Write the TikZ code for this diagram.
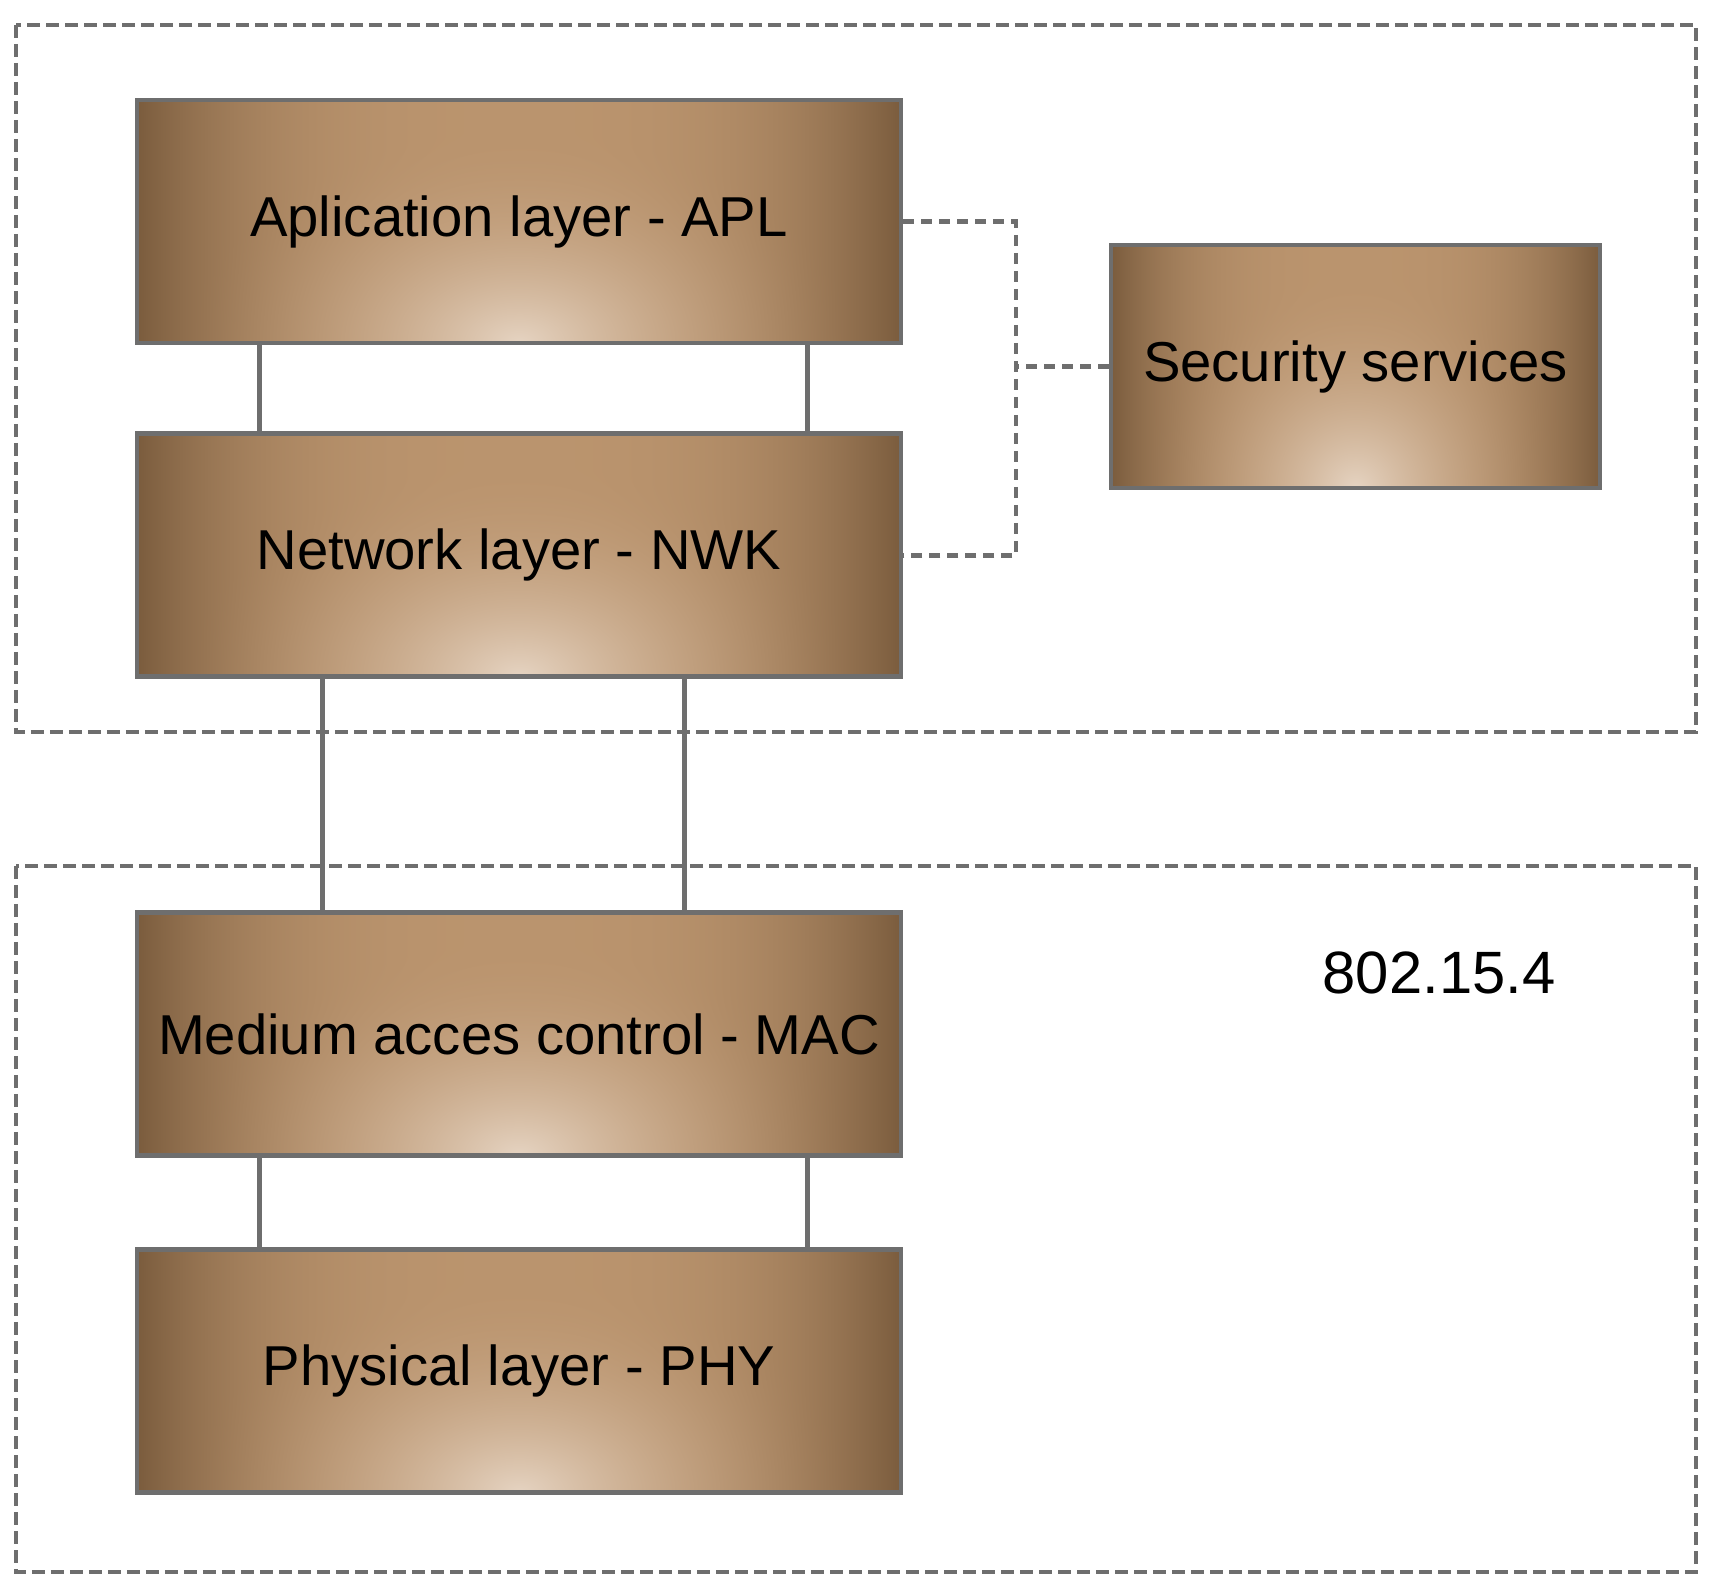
\documentclass[tikz,border=0pt]{standalone}
\usepackage{fontspec}
\setmainfont{Liberation Sans}
\usetikzlibrary{positioning}
\pgfdeclarefunctionalshading{layerglow}{\pgfpoint{-50bp}{-50bp}}{\pgfpoint{50bp}{50bp}}{}{
25 add 44 div dup mul
exch dup 22 div dup mul
3 -1 roll add sqrt
1 exch sub dup abs add 2 div dup mul
exch 25 div abs dup dup mul mul
dup -0.25 mul 0.73 add 2 index 1 exch sub mul 2 index 0.90 mul add 3 1 roll
dup -0.22 mul 0.58 add 2 index 1 exch sub mul 2 index 0.83 mul add 3 1 roll
dup -0.19 mul 0.43 add 2 index 1 exch sub mul 2 index 0.76 mul add 3 1 roll
pop pop
}
\definecolor{edgegray}{HTML}{6E6E6E}
\begin{document}
\begin{tikzpicture}
\tikzstyle{layer}=[draw=edgegray,line width=1.4pt,shading=layerglow,minimum width=7.64cm,minimum height=2.43cm,inner sep=0pt,font=\fontsize{16}{19}\selectfont];
\tikzstyle{wire}=[draw=edgegray,line width=1.3pt];
\tikzstyle{dashlink}=[draw=edgegray,line width=1.4pt,dash pattern=on 1.1mm off 0.7mm];
\tikzstyle{frame}=[draw=edgegray,line width=1.4pt,dash pattern=on 1.3mm off 0.6mm];
\useasboundingbox (0,0) rectangle (17.09,-15.89);
\draw[frame] (0.16,-0.25) rectangle (16.96,-7.32);
\draw[frame] (0.16,-8.66) rectangle (16.96,-15.72);
\node[layer] (APL) at (5.19,-2.215) {Aplication layer - APL};
\node[layer,below=0.86cm of APL] (NWK) {Network layer - NWK};
\node[layer,below=2.31cm of NWK] (MAC) {Medium acces control - MAC};
\node[layer,below=0.89cm of MAC] (PHY) {Physical layer - PHY};
\node[layer,minimum width=4.89cm] (SEC) at (13.555,-3.665) {Security services};
\node[font=\fontsize{17}{20}\selectfont] (std) at (14.39,-9.73) {802.15.4};
\coordinate (bus) at (10.16,-3.665);
\draw[wire] ([xshift=1.25cm]APL.south west) -- ([xshift=1.25cm]NWK.north west);
\draw[wire] ([xshift=6.73cm]APL.south west) -- ([xshift=6.73cm]NWK.north west);
\draw[wire] ([xshift=1.88cm]NWK.south west) -- ([xshift=1.88cm]MAC.north west);
\draw[wire] ([xshift=5.50cm]NWK.south west) -- ([xshift=5.50cm]MAC.north west);
\draw[wire] ([xshift=1.25cm]MAC.south west) -- ([xshift=1.25cm]PHY.north west);
\draw[wire] ([xshift=6.73cm]MAC.south west) -- ([xshift=6.73cm]PHY.north west);
\draw[dashlink] (APL.east) -- (APL.east -| bus) -- (NWK.east -| bus) -- (NWK.east);
\draw[dashlink] (SEC.west) -- (bus);
\end{tikzpicture}
\end{document}
